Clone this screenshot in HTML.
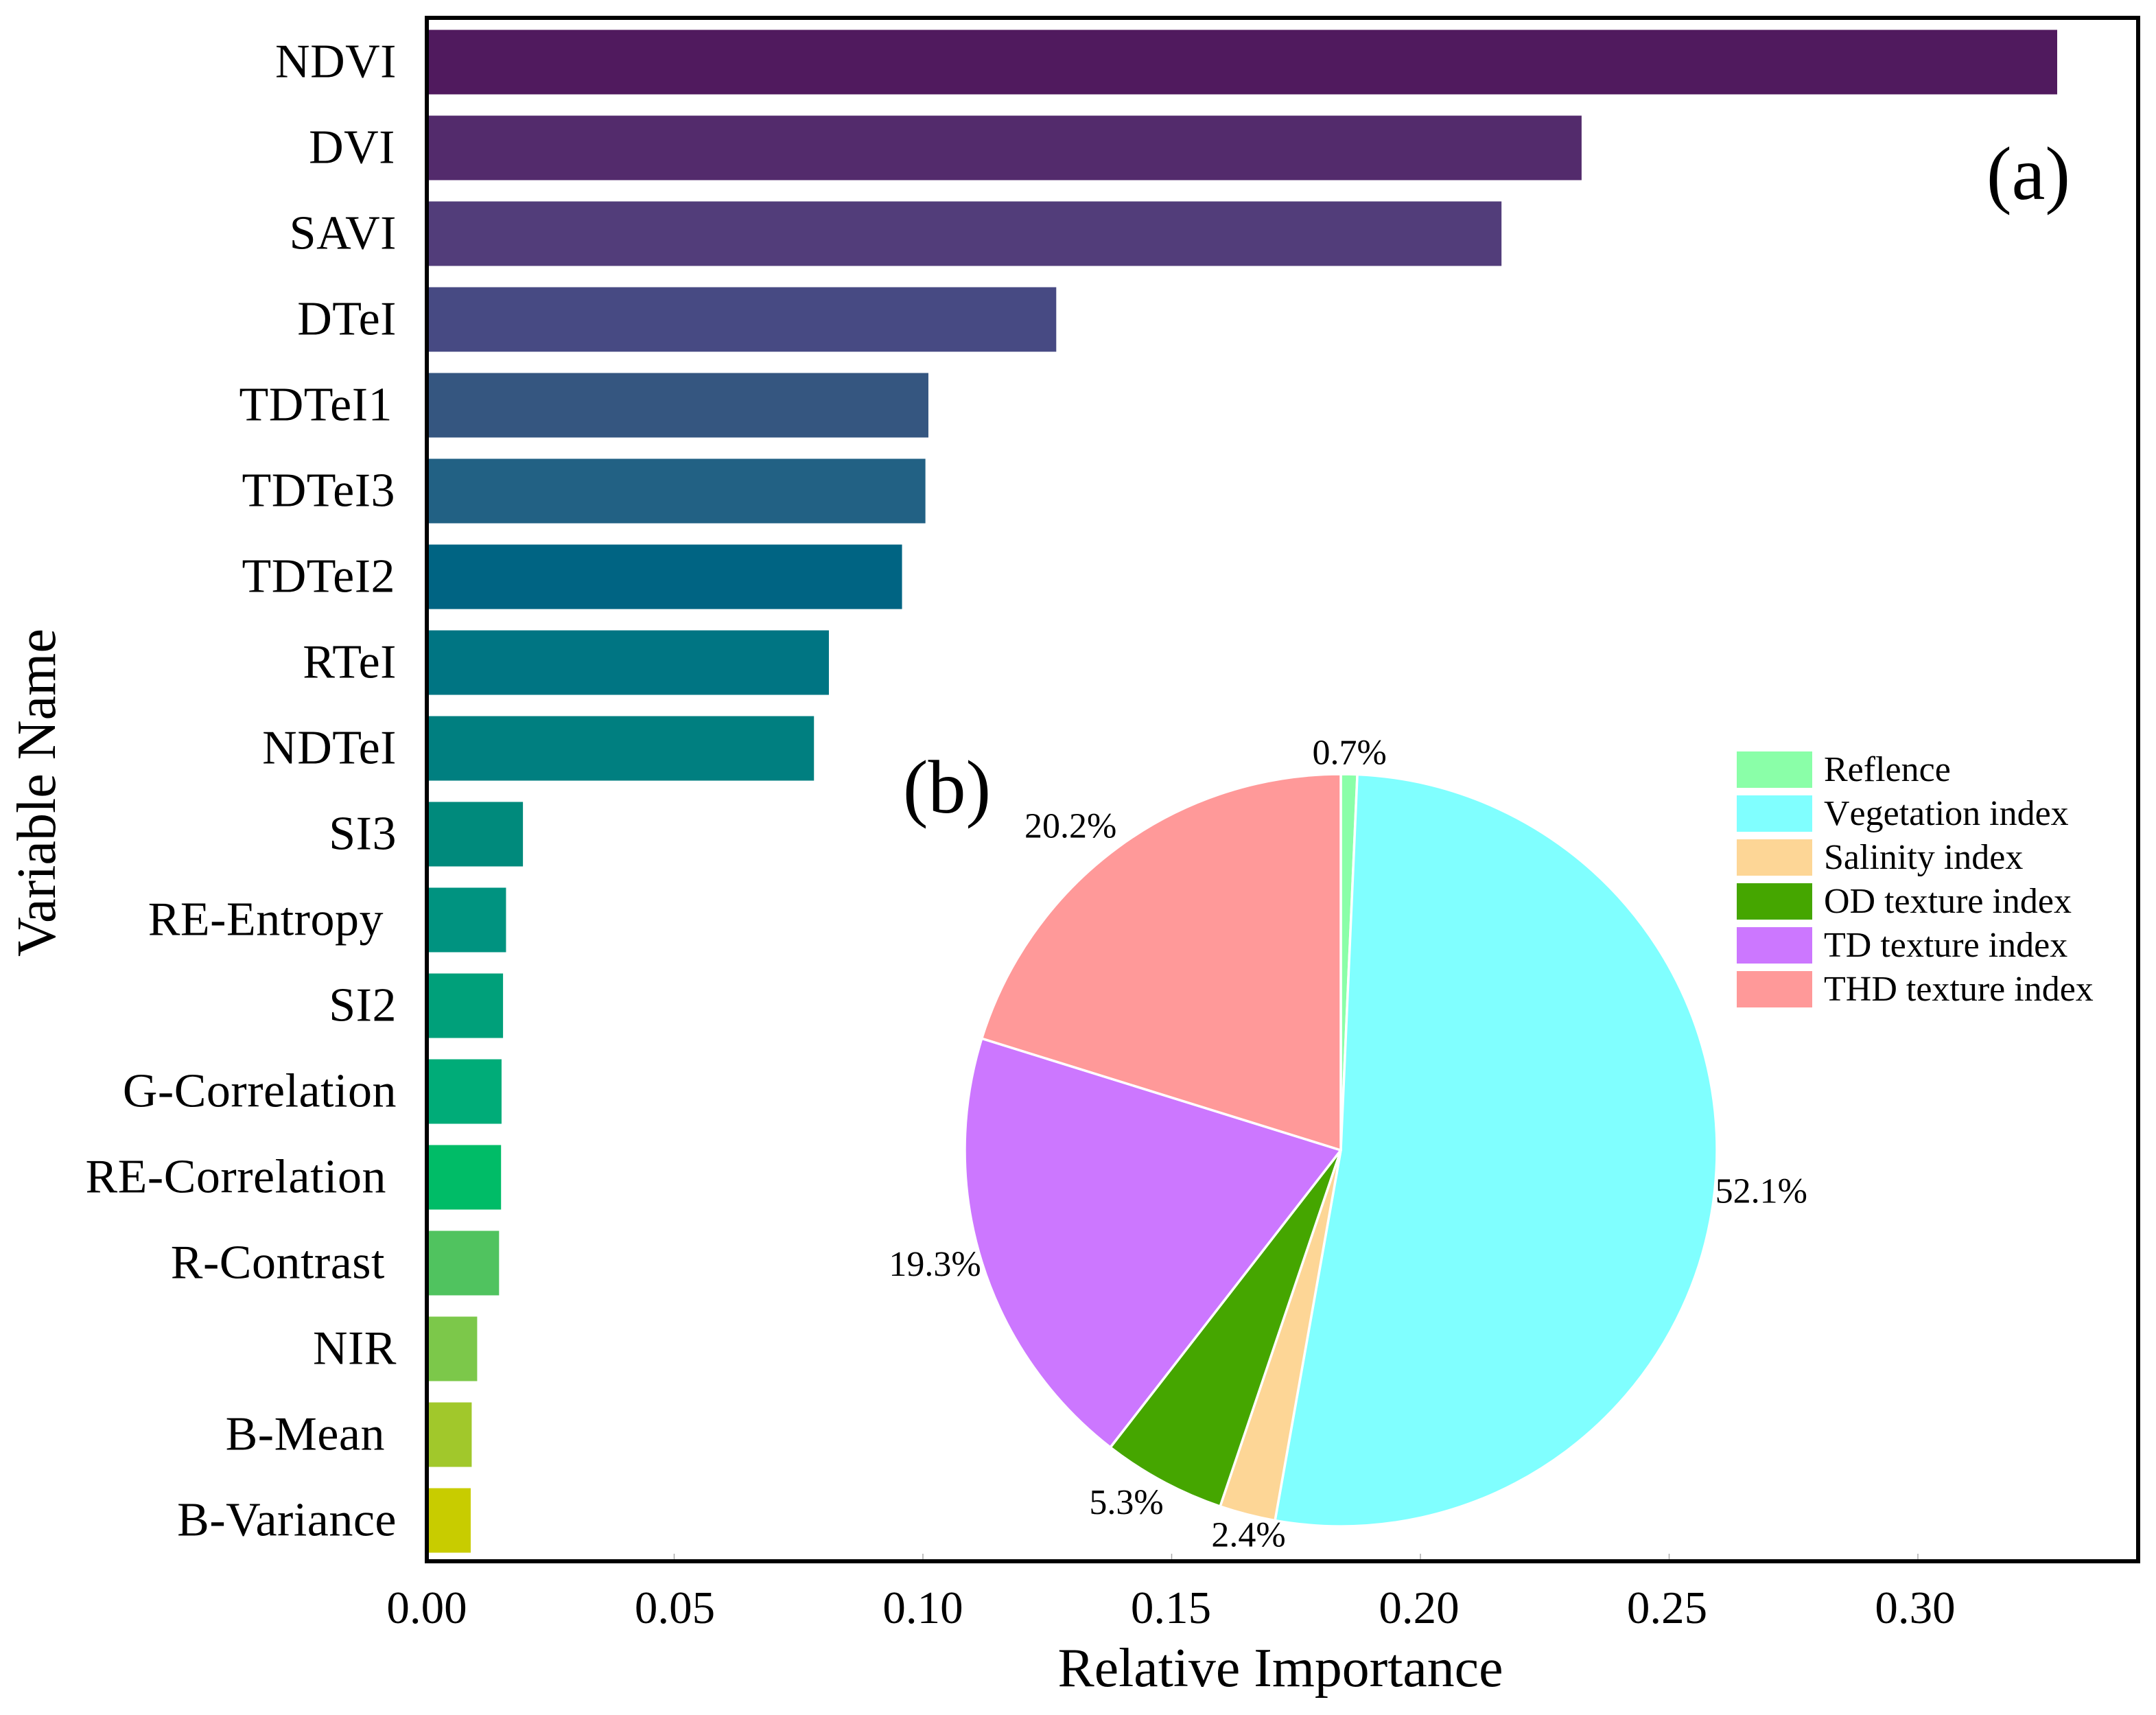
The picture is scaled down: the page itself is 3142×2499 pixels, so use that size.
<!DOCTYPE html>
<html lang="en">
<head>
<meta charset="utf-8">
<title>Relative importance of variables</title>
<style>
html,body{margin:0;padding:0;background:#fff;}
svg{display:block;}
text{font-family:"Liberation Serif",serif;fill:#000;}
#legend text{font-kerning:none;}
</style>
</head>
<body>
<svg id="chart" xmlns="http://www.w3.org/2000/svg" width="3142" height="2499" viewBox="0 0 3142 2499">
<rect x="0" y="0" width="3142" height="2499" fill="#fff"/>
<g id="bars"></g>
<g id="xaxis"></g>
<g id="yaxis"></g>
<rect x="622" y="26" width="2494" height="2249" fill="none" stroke="#000" stroke-width="6"/>
<text x="2956" y="290" font-size="110" text-anchor="middle">(a)</text>
<text x="1380" y="1184" font-size="110" text-anchor="middle">(b)</text>
<g id="pie"></g>
<g id="legend"></g>
<text x="1866" y="2457" font-size="80" text-anchor="middle" textLength="649" lengthAdjust="spacingAndGlyphs">Relative Importance</text>
<text transform="translate(80 1155) rotate(-90)" font-size="80" text-anchor="middle" textLength="478" lengthAdjust="spacingAndGlyphs">Variable Name</text>
</svg>
<script>
const variableNames = ["NDVI","DVI","SAVI","DTeI","TDTeI1","TDTeI3","TDTeI2","RTeI","NDTeI","SI3","RE-Entropy","SI2","G-Correlation","RE-Correlation","R-Contrast","NIR","B-Mean","B-Variance"];
const importanceValues = [0.328,0.2324,0.2163,0.1268,0.1011,0.1005,0.0958,0.0811,0.0781,0.0196,0.0162,0.0156,0.0153,0.0152,0.0148,0.0104,0.0093,0.0091];
const barColors = ["#501a5e","#532b6c","#523d7a","#474a83","#355680","#226184","#006483","#007583","#007f80","#008a7c","#009380","#00a07a","#00ac78","#00bc67","#50c35f","#7cc84a","#a1c82b","#c8cc00"];
const xTickValues = [0,0.05,0.10,0.15,0.20,0.25,0.30];
const xTickLabels = ["0.00","0.05","0.10","0.15","0.20","0.25","0.30"];
const pieCategories = ["Reflence","Vegetation index","Salinity index","OD texture index","TD texture index","THD texture index"];
const pieShares = [0.7,52.1,2.4,5.3,19.3,20.2];
const pieLabels = ["0.7%","52.1%","2.4%","5.3%","19.3%","20.2%"];
const pieColors = ["#8affa8","#80ffff","#fdd696","#45a600","#cc77ff","#ff9999"];

const labelShift = {"TDTeI1":-6,"RE-Entropy":-19,"RE-Correlation":-15,"R-Contrast":-17,"B-Mean":-17,"DVI":-2,"TDTeI3":-2,"TDTeI2":-2};
const pieLabelReach = [1.05,1.125,1.06,1.10,1.12,1.12];
const pieLabelNudge = {"0.7%":[0,-2],"52.1%":[0,-6],"2.4%":[10,0],"5.3%":[-27,-16],"19.3%":[-6,-16],"20.2%":[-30,24]};

const SVG_NS = "http://www.w3.org/2000/svg";
function mk(tag, parent, attrs, txt){
  const el = document.createElementNS(SVG_NS, tag);
  for (const k in attrs) el.setAttribute(k, attrs[k]);
  if (txt !== undefined) el.textContent = txt;
  parent.appendChild(el);
  return el;
}
function slug(s){ return s.toLowerCase().replace(/[^a-z0-9]+/g, "-"); }

const xScale = v => 620 + 7250 * v;
const yScale = i => 90.5 + 125 * i;
const BAR_H = 94;

const barsG = document.getElementById("bars");
const yG = document.getElementById("yaxis");
importanceValues.forEach((v, i) => {
  const bar = mk("rect", barsG, {x: xScale(0), y: yScale(i) - BAR_H / 2, width: xScale(v) - xScale(0), height: BAR_H, fill: barColors[i]});
  
  
  const lab = mk("text", yG, {x: 578 + (labelShift[variableNames[i]] || 0), y: yScale(i) + 22, "font-size": 70, "letter-spacing": 0.5, "text-anchor": "end"}, variableNames[i]);
  
  
});

const xG = document.getElementById("xaxis");
xTickValues.forEach((v, i) => {
  const t = mk("line", xG, {x1: xScale(v), x2: xScale(v), y1: 2264, y2: 2272, stroke: "#aaa", "stroke-width": 1.5});
  
  
  const lab = mk("text", xG, {x: xScale(v) + 2 - 20 * v, y: 2365, "font-size": 67, "text-anchor": "middle"}, xTickLabels[i]);
  
  
});

const CX = 1954, CY = 1676, R = 548;
const pieG = document.getElementById("pie");
const shareTotal = pieShares.reduce((a, b) => a + b, 0);
let cum = 0;
pieShares.forEach((s, i) => {
  const a0 = cum / shareTotal * 2 * Math.PI;
  cum += s;
  const a1 = cum / shareTotal * 2 * Math.PI;
  const px = a => CX + R * Math.sin(a);
  const py = a => CY - R * Math.cos(a);
  const large = (a1 - a0) > Math.PI ? 1 : 0;
  const d = "M" + CX + " " + CY + "L" + px(a0) + " " + py(a0) + "A" + R + " " + R + " 0 " + large + " 1 " + px(a1) + " " + py(a1) + "Z";
  const slice = mk("path", pieG, {d: d, fill: pieColors[i], stroke: "#fff", "stroke-width": 3.5, "stroke-linejoin": "round"});
  
  
});
cum = 0;
pieShares.forEach((s, i) => {
  const a0 = cum / shareTotal * 2 * Math.PI;
  cum += s;
  const a1 = cum / shareTotal * 2 * Math.PI;
  const mid = (a0 + a1) / 2;
  const r = R * pieLabelReach[i];
  const nudge = pieLabelNudge[pieLabels[i]] || [0, 0];
  const lab = mk("text", pieG, {x: CX + r * Math.sin(mid) + nudge[0], y: CY - r * Math.cos(mid) + 15 + nudge[1], "font-size": 52, "text-anchor": "middle"}, pieLabels[i]);
  
  
});

const legG = document.getElementById("legend");
pieCategories.forEach((c, i) => {
  const top = 1095 + 64 * i;
  const sw = mk("rect", legG, {x: 2531, y: top, width: 110, height: 53, fill: pieColors[i]});
  
  
  const lab = mk("text", legG, {x: 2658, y: top + 43, "font-size": 52}, c);
  
  
});
</script>
</body>
</html>
